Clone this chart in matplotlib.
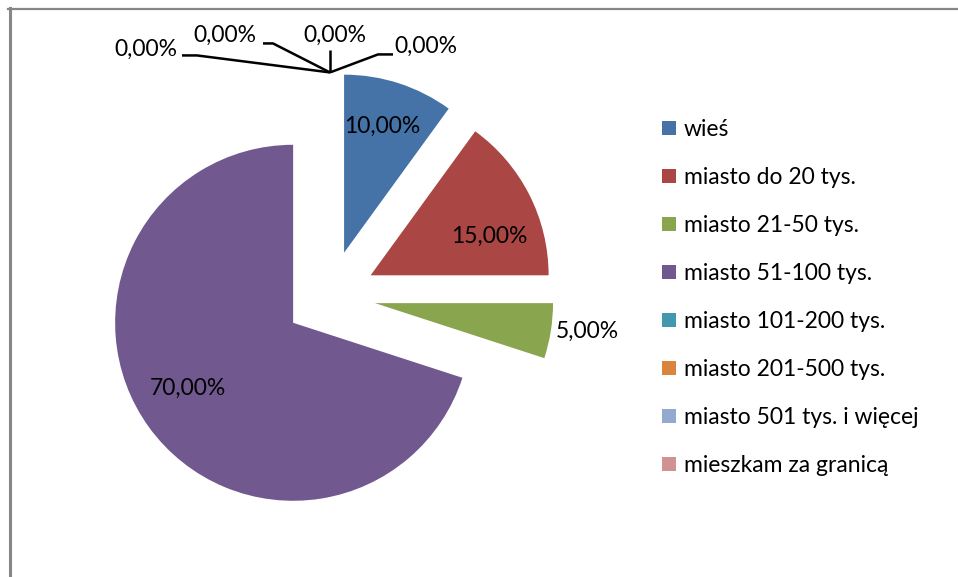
import matplotlib.pyplot as plt
from matplotlib.lines import Line2D
import numpy as np

plt.rcParams['font.family'] = ['Lato', 'DejaVu Sans']

# data
categories = ['wieś', 'miasto do 20 tys.', 'miasto 21-50 tys.', 'miasto 51-100 tys.',
              'miasto 101-200 tys.', 'miasto 201-500 tys.', 'miasto 501 tys. i więcej',
              'mieszkam za granicą']
shares = [10.0, 15.0, 5.0, 70.0, 0.0, 0.0, 0.0, 0.0]
colors = ['#4572A7', '#AA4643', '#89A54E', '#71588F',
          '#4198AF', '#DB843D', '#93A9CF', '#D19392']

W, H = 958, 577
fig = plt.figure(figsize=(W / 100, H / 100), dpi=100)
ax = fig.add_axes([0, 0, 1, 1])

R = 178
# pie's explode is an absolute offset, so scale the fraction by the radius
explode = [0.256 * R] * len(shares)
wedges, _ = ax.pie(shares, colors=colors, radius=R, center=(330, H - 296),
                   startangle=90, counterclock=False, explode=explode, frame=True)
ax.set_xlim(0, W)
ax.set_ylim(0, H)
ax.axis('off')

FS = 16.5

def fmt(v):
    return '{:.2f}%'.format(v).replace('.', ',')

# labels on non-zero slices: distance (fraction of radius), angle shift, alignment
label_dist = [0.74, 0.70, 1.03, 0.70]
label_shift = [1, -9, 0, -4]
label_ha = ['center', 'center', 'left', 'center']

zero_text = [(-153, 23), (-74, 37), (5, 37), (64, 26)]
zero_knee = [(-133, 17), (-57, 29), (0, 22), (48, 18)]
zero_end = [(-148, 17), (-67, 29), (0, 22), (63, 18)]
zero_ha = ['right', 'right', 'center', 'left']

k = 0
z = 0
for w, v in zip(wedges, shares):
    cx, cy = w.center
    if v > 0:
        th = np.deg2rad((w.theta1 + w.theta2) / 2 + label_shift[k])
        d = label_dist[k] * R
        ax.text(cx + d * np.cos(th), cy + d * np.sin(th), fmt(v), fontsize=FS,
                ha=label_ha[k], va='center', color='black')
        k += 1
    else:
        th = np.deg2rad(w.theta1)
        tx, ty = cx + R * np.cos(th), cy + R * np.sin(th)
        ex, ey = zero_end[z]
        kx, ky = zero_knee[z]
        ax.plot([tx, tx + kx, tx + ex], [ty, ty + ky, ty + ey], color='black', lw=1.8,
                solid_capstyle='butt')
        ox, oy = zero_text[z]
        ax.text(tx + ox, ty + oy, fmt(v), fontsize=FS, ha=zero_ha[z], va='center')
        z += 1

leg = ax.legend(wedges, categories, loc='upper left',
                bbox_to_anchor=(662 / W, 1 - 119 / H), frameon=False,
                fontsize=FS, handlelength=0.6, handleheight=0.6,
                handletextpad=0.36, labelspacing=1.18, borderpad=0, borderaxespad=0)

# chart area border (left and top only visible)
fig.add_artist(Line2D([9.5 / W, 9.5 / W], [0, 1 - 8 / H], color='#868686', lw=2.2))
fig.add_artist(Line2D([8 / W, 1], [1 - 9 / H, 1 - 9 / H], color='#868686', lw=1.6))

fig.savefig('out.png', dpi=100)
